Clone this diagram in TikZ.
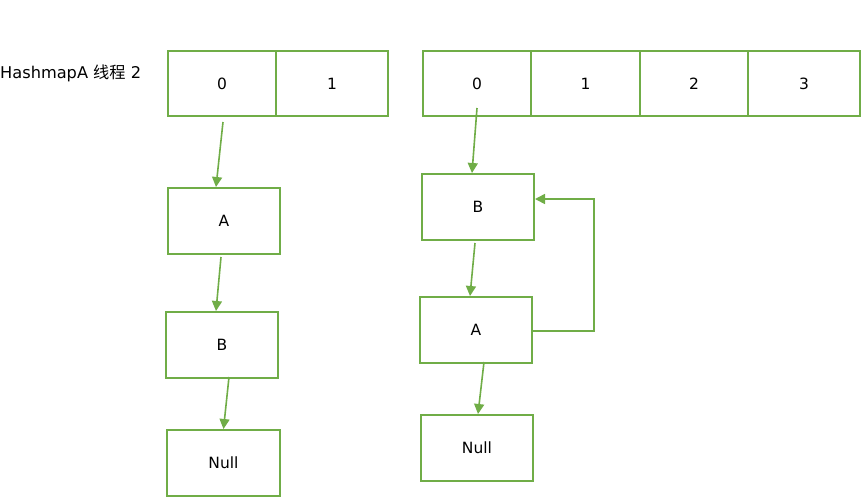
\documentclass[tikz,border=0pt]{standalone}
\usepackage{fontspec}
\setmainfont{DejaVu Sans}
\newfontfamily\cjk{Noto Sans CJK SC}
\usetikzlibrary{arrows.meta}
\definecolor{lg}{RGB}{112,173,71}
\begin{document}
\begin{tikzpicture}[x=1pt,y=-1pt,
  box/.style={draw=lg,line width=2pt,minimum height=66pt,inner sep=0pt,font=\fontsize{15.5}{17}\selectfont},
  cell/.style={box,minimum height=65pt},
  link/.style={draw=lg,line width=1.6pt,-{Triangle[length=10pt,width=10pt]}}]
\useasboundingbox (0,0) rectangle (865,499);
\node[anchor=west,font=\fontsize{16.2}{18}\selectfont,inner sep=0pt] (lbl) at (0,73) {HashmapA {\cjk 线程} 2};
% left array
\node[cell,minimum width=108pt] (c0) at (222,83.5) {0};
\node[cell,minimum width=112pt] (c1) at (332,83.5) {1};
% right array
\node[cell,minimum width=108pt] (r0) at (477,83.5) {0};
\node[cell,minimum width=109pt] (r1) at (585.5,83.5) {1};
\node[cell,minimum width=108pt] (r2) at (694,83.5) {2};
\node[cell,minimum width=112pt] (r3) at (804,83.5) {3};
% left chain
\node[box,minimum width=112pt] (la) at (224,221) {A};
\node[box,minimum width=112pt] (lb) at (222,345) {B};
\node[box,minimum width=113pt] (ln) at (223.5,463) {Null};
% right chain
\node[box,minimum width=112pt] (rb) at (478,207) {B};
\node[box,minimum width=112pt] (ra) at (476,330) {A};
\node[box,minimum width=112pt] (rn) at (477,448) {Null};
% left arrows
\draw[link] ([xshift=1pt,yshift=-5pt]c0.south) -- ([xshift=-8pt]la.north);
\draw[link] ([xshift=-3pt,yshift=-2pt]la.south) -- ([xshift=-6pt]lb.north);
\draw[link] ([xshift=7pt,yshift=2pt]lb.south) -- (ln.north);
% right arrows
\draw[link] ([yshift=9pt]r0.south) -- ([xshift=-6pt]rb.north);
\draw[link] ([xshift=-3pt,yshift=-2pt]rb.south) -- ([xshift=-6pt]ra.north);
\draw[link] ([xshift=8pt,yshift=2pt]ra.south) -- ([xshift=1pt]rn.north);
% loop
\draw[link] ([yshift=-1pt]ra.east) -- ++(61,0) |- ([yshift=8pt]rb.east);
\end{tikzpicture}
\end{document}
